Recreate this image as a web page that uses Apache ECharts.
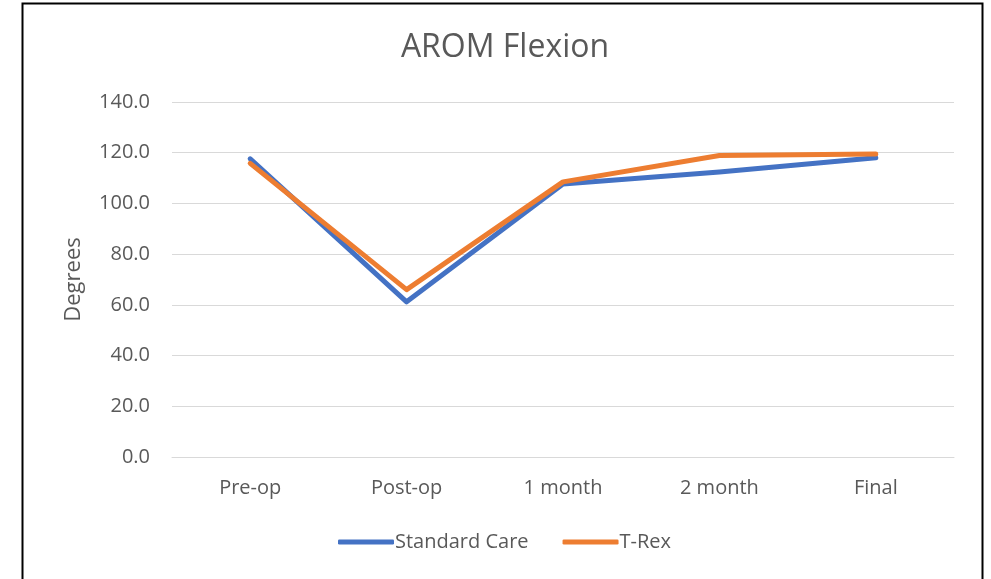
<!DOCTYPE html>
<html>
<head>
<meta charset="utf-8">
<style>
  html, body { margin: 0; padding: 0; background: #fff; }
  #chart { width: 991px; height: 579px; }
</style>
<script src="https://cdn.jsdelivr.net/npm/echarts@6/dist/echarts.min.js"></script>
</head>
<body>
<div id="chart"></div>
<script>
const categories = ["Pre-op", "Post-op", "1 month", "2 month", "Final"];
const standardCare = [117.6, 61.2, 107.7, 112.4, 118.0];
const tRex = [115.8, 66.0, 108.5, 118.9, 119.5];
const yTicks = { min: 0, max: 140, step: 20 };

const textColor = "#595959";
const fontFamily = "'Open Sans', 'Noto Sans', sans-serif";

const chart = echarts.init(document.getElementById("chart"));

chart.setOption({
    animation: false,
    textStyle: { fontFamily: fontFamily },
    graphic: [
        {
            type: "rect",
            shape: { x: 22.5, y: 3.5, width: 960, height: 578 },
            style: { fill: "none", stroke: "#000", lineWidth: 2 },
            silent: true,
        },
    ],
    title: {
        text: "AROM Flexion",
        left: 500,
        textAlign: "center",
        top: 27,
        textStyle: {
            color: textColor,
            fontSize: 32,
            fontWeight: "normal",
            fontFamily: fontFamily,
        },
    },
    legend: {
        bottom: 22,
        left: 333,
        itemWidth: 56,
        itemHeight: 5,
        itemGap: 34,
        icon: "roundRect",
        textStyle: { color: textColor, fontSize: 20, fontFamily: fontFamily, padding: [0, 0, 0, -4] },
        data: ["Standard Care", "T-Rex"],
    },
    grid: {
        left: 172,
        right: 37,
        top: 102,
        bottom: 122,
    },
    xAxis: {
        type: "category",
        data: categories,
        boundaryGap: true,
        axisLine: { lineStyle: { color: "#d9d9d9", width: 1 } },
        axisTick: { show: false },
        axisLabel: { color: textColor, fontSize: 20, margin: 21 },
    },
    yAxis: {
        type: "value",
        name: "Degrees",
        nameLocation: "middle",
        nameGap: 87,
        nameTextStyle: { color: textColor, fontSize: 22 },
        min: yTicks.min,
        max: yTicks.max,
        interval: yTicks.step,
        axisLine: { show: false },
        axisTick: { show: false },
        axisLabel: {
            color: textColor,
            fontSize: 20,
            margin: 22,
            formatter: (v) => v.toFixed(1),
        },
        splitLine: { lineStyle: { color: "#d9d9d9", width: 1 } },
    },
    series: [
        {
            name: "Standard Care",
            type: "line",
            data: standardCare,
            symbol: "none",
            lineStyle: { color: "#4472c4", width: 5, cap: "round", join: "round" },
            itemStyle: { color: "#4472c4" },
        },
        {
            name: "T-Rex",
            type: "line",
            data: tRex,
            symbol: "none",
            lineStyle: { color: "#ed7d31", width: 5, cap: "round", join: "round" },
            itemStyle: { color: "#ed7d31" },
        },
    ],
});
</script>
</body>
</html>
